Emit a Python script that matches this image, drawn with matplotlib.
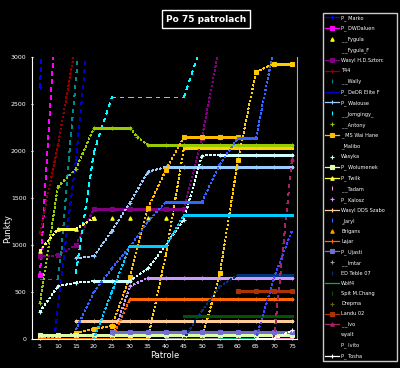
import matplotlib
matplotlib.use("Agg")
import matplotlib.pyplot as plt
from matplotlib.lines import Line2D

# players (legend order)
names = ["P_ Marko", "P_ DWDaluen", "_ _Fygula", "_ _Fygula_F", "Wasyl H.D.Sztorc",
         "T44", "_ _Wally", "P_ DeDR Elite F", "P_ Walouse", "_ _Jomgingy_",
         "_ _Antony", "_ MS Wai Hane", "_Malibo", "Wasyka", "P_ Wolumenek",
         "P_ Twilk", "_ _Tadam", "P_ Kalosz", "Wasyl DDS Szabo", "_Jaryl",
         "Brigans", "Lajar", "P_ Ujasti", "_ _Imtar", "ED Teble 07",
         "Wolf4", "Spit M.Chang", "Drepma", "Landu 02", "_ _Ivo",
         "wyalt", "P_ Ivito", "P_ Tosha"]

colors = ["#0000ff", "#ff00ff", "#ffff00", "#ffd000", "#800080",
          "#8b0000", "#008b8b", "#0000cc", "#99ccff", "#00ffff",
          "#99cc00", "#ffbb00", "#ffcc00", "#ccffff", "#ddffaa",
          "#ffff44", "#ff99cc", "#cc99ff", "#ffcc99", "#3366ff",
          "#ff9900", "#ff6600", "#7070cc", "#999999", "#003377",
          "#00aa66", "#005500", "#666600", "#aa3300", "#aa2266",
          "#00ccff", "#4444ff", "#ffffff"]

markers = ["+", "s", "^", "", "s",
           "+", "", "", "+", "",
           "+", "s", "s", "+", "s",
           "^", "", "+", "+", "",
           "^", "+", "s", "+", "",
           "", "", "+", "s", "^",
           "", "", "+"]

# flat stretches use this style, rising stretches are dotted unless dashed
styles = ["--", "--", "none", "-", "-",
          ":", "--", "--", "-", "--",
          "-", "-", "-", "-", "-",
          "-", "-", "-", "-", "-",
          "-", "-", "-", "-", "-",
          "-", "-", "-", "-", "--",
          "-", ":", "-"]

# legend sample: 'l' line+marker, 'm' marker only, 'n' nothing
legend_kind = ["l", "l", "m", "n", "l", "l", "m", "l", "l", "m",
               "m", "l", "n", "m", "l", "l", "m", "m", "l", "m",
               "m", "l", "l", "m", "m", "l", "m", "m", "l", "l",
               "n", "n", "l"]

flat = list(range(5, 80, 5))

x_vals = [
    [5, 6],
    [5, 9],
    [20, 25, 30, 35, 40],
    [35, 40, 45, 50, 55, 60, 65, 70, 75],
    [5, 10, 15, 20, 25, 30, 35, 40, 45, 50, 55],
    [5, 10, 15],
    [5, 10, 11, 13, 16],
    [9, 12, 15, 18],
    [15, 20, 25, 30, 35, 40, 45, 50, 55, 60, 65, 70, 75],
    [15, 20, 25, 30, 35, 40, 45, 50],
    [5, 10, 15, 20, 25, 30, 32, 35, 40, 45, 50, 55, 60, 65, 70, 75],
    [5, 10, 15, 20, 25, 30, 35, 40, 45, 50, 55, 60],
    [50, 55, 60, 65, 70, 75],
    [5, 10, 15, 20, 25, 30, 35, 40, 45, 50, 55, 60, 65, 70, 75],
    flat,
    [5, 10, 15, 20],
    [55, 60, 65, 70, 75],
    flat,
    [15, 20, 25, 30, 35, 40, 45, 50, 55, 60, 65, 70, 75],
    [15, 20, 25, 30, 35, 40, 45, 50, 55, 60, 65, 70],
    [20, 25, 30, 35],
    flat,
    [25, 30, 35, 40, 45, 50, 55, 60, 65, 70, 75],
    [40, 45, 50, 55],
    [45, 50, 55, 60, 65, 70, 75],
    [55, 60, 65],
    [45, 50, 55, 60, 65, 70, 75],
    [45, 50],
    [60, 65, 70, 75],
    [60, 65, 70, 75],
    [20, 25, 30, 35, 40, 45, 50, 55, 60, 65, 70, 75],
    [65, 70, 75],
    [65, 70, 75],
]

y_vals = [
    [2680, 3400],
    [680, 3200],
    [1290, 1290, 1290, 1290, 1290],
    [0, 900, 2030, 2030, 2030, 2030, 2030, 2030, 2030],
    [880, 890, 1000, 1385, 1385, 1385, 1385, 1385, 1385, 2140, 3150],
    [1130, 2060, 3150],
    [640, 640, 950, 1900, 3200],
    [0, 1000, 1900, 3100],
    [860, 880, 1150, 1450, 1780, 1830, 1830, 1830, 1830, 1830, 1830, 1830, 1830],
    [700, 1990, 2575, 2575, 2575, 2575, 2575, 3150],
    [380, 1620, 1810, 2245, 2245, 2245, 2150, 2063, 2063, 2063, 2063, 2063, 2063, 2063, 2063, 2063],
    [0, 20, 60, 106, 138, 660, 1394, 1800, 2150, 2150, 2150, 2150],
    [0, 700, 1900, 2840, 2930, 2930],
    [290, 560, 600, 615, 615, 615, 750, 1000, 1270, 1950, 1960, 1960, 1960, 1960, 1960],
    [40, 40, 40, 40, 40, 40, 40, 40, 40, 40, 40, 40, 40, 40, 40],
    [940, 1170, 1170, 1290],
    [0, 0, 0, 0, 0],
    [0, 0, 0, 0, 0, 560, 650, 650, 650, 650, 650, 650, 650, 650, 650],
    [190, 190, 190, 190, 190, 190, 190, 190, 190, 190, 190, 190, 190],
    [100, 500, 750, 980, 1250, 1460, 1460, 1460, 1860, 2140, 2140, 3100],
    [0, 0, 0, 0],
    [0, 0, 0, 0, 0, 425, 425, 425, 425, 425, 425, 425, 425, 425, 425],
    [75, 75, 75, 75, 75, 75, 75, 75, 75, 75, 75],
    [0, 0, 0, 0],
    [0, 300, 560, 680, 680, 680, 680],
    [0, 0, 0],
    [245, 245, 245, 245, 245, 245, 245],
    [0, 0],
    [510, 510, 510, 510],
    [0, 0, 0, 1920],
    [0, 500, 990, 990, 990, 1320, 1320, 1320, 1320, 1320, 1320, 1320],
    [0, 650, 1150],
    [0, 0, 90],
]

y_ticks = [0, 500, 1000, 1500, 2000, 2500, 3000]
x_ticks = list(range(5, 80, 5))

fig = plt.figure(figsize=(4, 3.68), dpi=100, facecolor="black")
ax = fig.add_axes([0.08, 0.079, 0.6625, 0.766], facecolor="black")

dash = (0, (3, 4))
for i in range(len(names)):
    xs, ys, c = x_vals[i], y_vals[i], colors[i]
    if styles[i] != "none":
        for j in range(len(xs) - 1):
            if styles[i] == "--":
                ls = dash
            elif styles[i] == ":" or ys[j] != ys[j + 1]:
                ls = (0, (1, 2))
            else:
                ls = "-"
            ax.plot(xs[j:j + 2], ys[j:j + 2], color=c, ls=ls, lw=0.8,
                    antialiased=False)
    if markers[i]:
        ax.plot(xs, ys, color=c, marker=markers[i], ls="none", ms=2.5, mew=0.8)

ax.set_xlim(2.8, 76.4)
ax.set_ylim(0, 3000)
ax.set_xticks(x_ticks)
ax.set_yticks(y_ticks)
ax.tick_params(colors="white", labelsize=4.5, length=2, width=0.8, direction="inout", pad=3)
for s in ["left", "bottom"]:
    ax.spines[s].set_color("white")
ax.spines["top"].set_visible(False)
ax.spines["right"].set_color("#aaaaaa")
ax.set_xlabel("Patrole", color="white", fontsize=6, labelpad=1)
ax.set_ylabel("Punkty", color="white", fontsize=6)
ax.yaxis.set_label_coords(-0.075, 0.39)

fig.text(0.515, 0.948, "Po 75 patrolach", color="white", fontsize=6.5,
         fontweight="bold", ha="center", va="center",
         bbox=dict(facecolor="black", edgecolor="white", pad=3, lw=1))

handles = []
for i in range(len(names)):
    k = legend_kind[i]
    if k == "l":
        h = Line2D([], [], color=colors[i], marker=markers[i] or None, ls="-",
                   lw=0.9, ms=2.5, mew=0.8)
    elif k == "m":
        h = Line2D([], [], color=colors[i], marker=markers[i] or "|", ls="none",
                   ms=2.5, mew=0.8)
    else:
        h = Line2D([], [], color="black", ls="none")
    handles.append(h)

leg = fig.legend(handles, names, loc="upper left",
                 bbox_to_anchor=(0.8075, 0.005, 0.185, 0.96), mode="expand",
                 fontsize=3.6, frameon=True, facecolor="black", edgecolor="white",
                 labelcolor="white", handlelength=2.8, handletextpad=0.4,
                 labelspacing=1.03, borderpad=0.4, borderaxespad=0, fancybox=False)
leg.get_frame().set_linewidth(1)

fig.savefig("out.png", dpi=100, facecolor="black")
